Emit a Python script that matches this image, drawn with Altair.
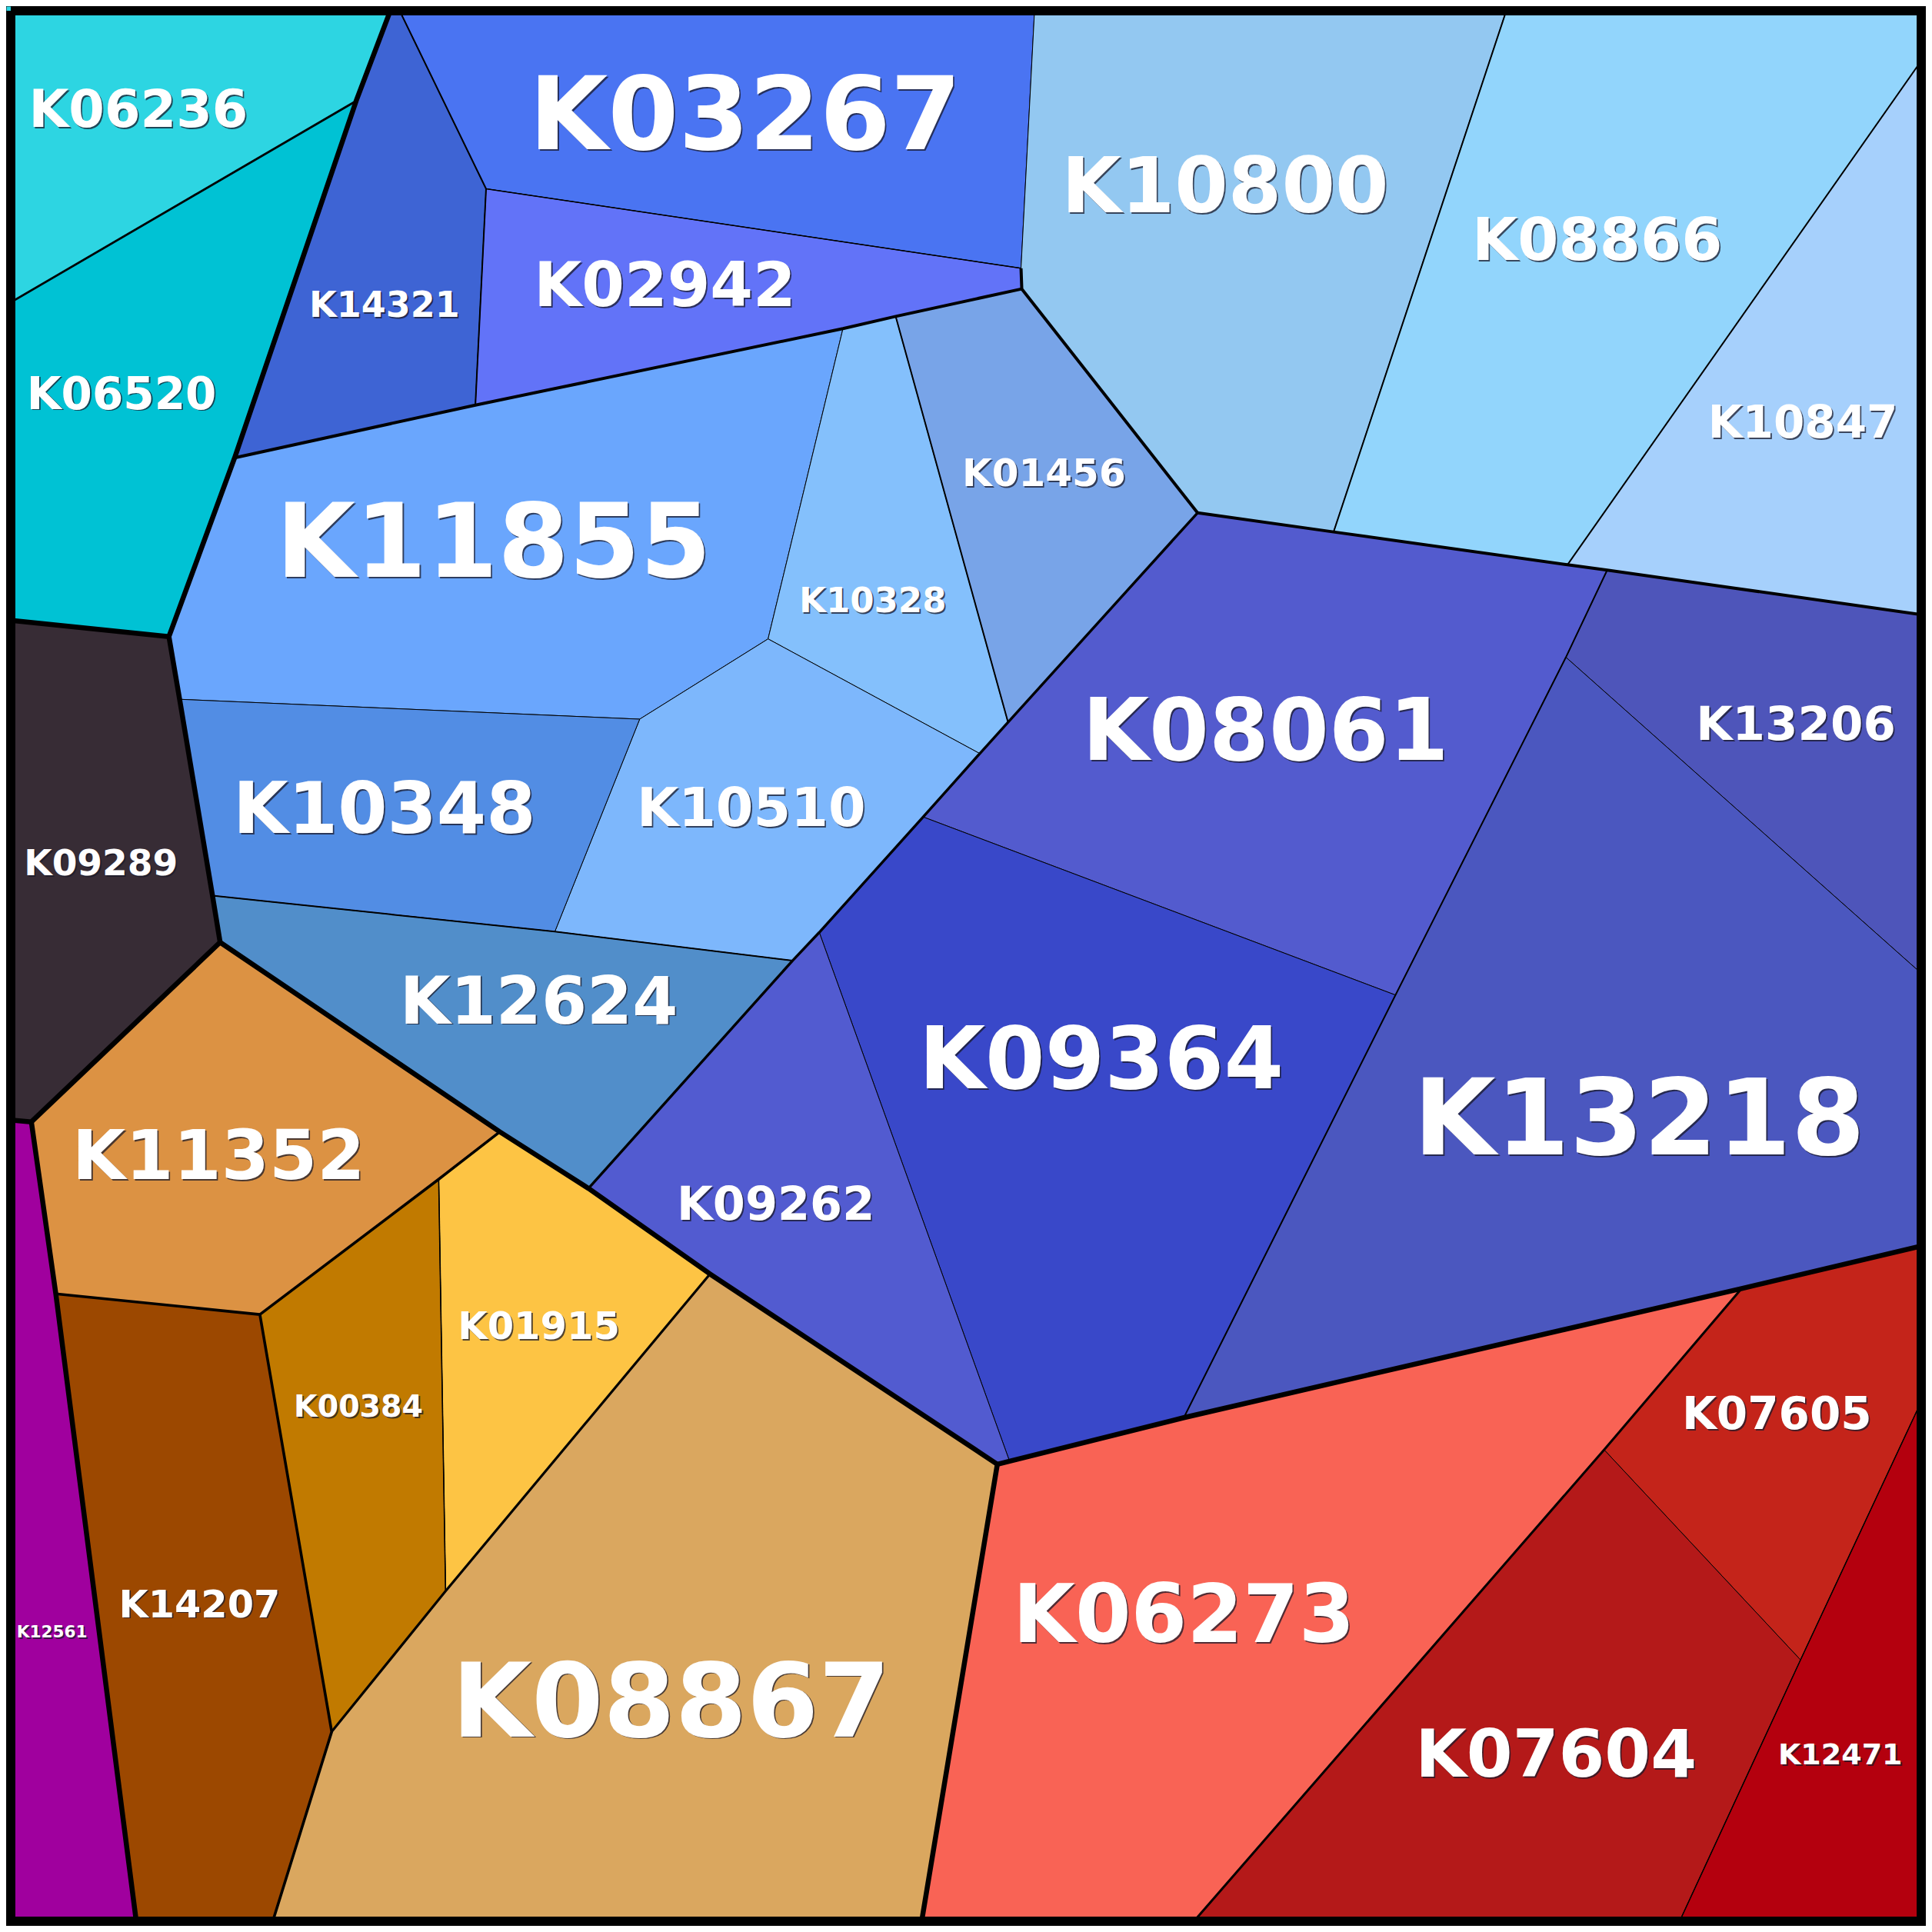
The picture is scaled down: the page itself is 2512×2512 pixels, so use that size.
import altair as alt
import pandas as pd

# ---- vertices of the Voronoi treemap (image pixel space, 0..2512) ----
vertex_names = ["TL", "TR", "BL", "BR", "T1", "T2", "T3", "T4",
                "R1", "R2", "R3", "R4", "R5", "B1", "B2", "B3", "B4", "B5",
                "L1", "L2", "L3", "a", "b", "c", "d", "e", "f", "g", "h", "i",
                "j", "k", "l", "m", "n", "o", "p", "q", "r", "s", "t", "u", "v",
                "w", "x", "y", "z", "aa", "ab", "ac", "ad", "ae", "af", "ag", "ah",
                "ai", "aj", "ak", "al", "am", "ba", "g1"]
vertex_x = [0, 2512, 0, 2512, 505, 512, 1346, 1965,
            2512, 2512, 2512, 2512, 2512, 171, 347, 1197, 1549, 2187,
            0, 0, 0, 628, 1328, 1329, 1559, 1311, 997, 1737, 2043, 2095,
            2041, 1818, 1541, 1200, 1274, 829, 1029, 1064, 1313, 762, 280, 270, 718,
            227, 33, 566, 332, 575, 65, 426, 921, 1297, 2271, 2091, 2348,
            299, 614, 1095, 213, 1164, 646, 458]
vertex_y = [0, 0, 2512, 2512, 0, 0, 0, 0,
            63, 797, 1271, 1621, 1813, 2512, 2512, 2512, 2512, 2512,
            391, 803, 1457, 239, 343, 370, 663, 937, 828, 688, 731, 738,
            852, 1294, 1847, 1061, 978, 933, 1249, 1212, 1904, 1547, 1225, 1164, 1211,
            907, 1460, 1535, 1712, 2074, 1685, 2258, 1659, 1908, 1678, 1889, 2164,
            591, 522, 422, 825, 406, 1473, 124]

# ---- cells ----
cell_names = ["K06236", "K06520", "K14321", "K03267", "K02942", "K11855", "K10328",
              "K01456", "K10800", "K08866", "K10847", "K13206", "K08061", "K13218",
              "K09364", "K09262", "K10510", "K10348", "K12624", "K09289", "K12561",
              "K11352", "K01915", "K00384", "K14207", "K08867", "K06273", "K07605",
              "K07604", "K12471"]
cell_colors = ["#2DD5E2", "#00C2D4", "#3E64D4", "#4A74F2", "#6273F8", "#6AA6FD", "#84C0FC",
               "#78A4E8", "#93C8F1", "#92D5FC", "#A6D0FC", "#4E55BA", "#535BCE", "#4B57BF",
               "#3948C9", "#525BD0", "#7DB7FC", "#528DE4", "#518ECA", "#372C35", "#A0009E",
               "#DC9243", "#FDC444", "#C17A00", "#9C4800", "#DAA75F", "#F96355", "#C4241A",
               "#B41919", "#B4000E"]
cell_vertices = [
    ["TL", "T1", "g1", "L1"],
    ["L1", "g1", "ai", "al", "L2"],
    ["T1", "T2", "a", "aj", "ai", "g1"],
    ["T2", "T3", "b", "a"],
    ["a", "b", "c", "am", "ak", "aj"],
    ["ai", "aj", "ak", "f", "o", "w", "al"],
    ["ak", "am", "e", "n", "f"],
    ["am", "c", "d", "e"],
    ["T3", "T4", "g", "d", "c", "b"],
    ["T4", "TR", "R1", "h", "g"],
    ["R1", "R2", "i", "h"],
    ["i", "R2", "R3", "j"],
    ["d", "g", "h", "i", "j", "k", "m", "n", "e"],
    ["j", "R3", "R4", "af", "l", "k"],
    ["m", "k", "l", "r", "q"],
    ["q", "r", "ae", "ad", "s", "p"],
    ["o", "f", "n", "m", "q", "p", "v"],
    ["w", "o", "v", "u"],
    ["u", "v", "p", "s", "ba", "t"],
    ["L2", "al", "w", "u", "t", "x", "L3"],
    ["L3", "x", "ab", "B1", "BL"],
    ["x", "t", "ba", "y", "z", "ab"],
    ["ba", "s", "ad", "aa", "y"],
    ["y", "aa", "ac", "z"],
    ["ab", "z", "ac", "B2", "B1"],
    ["ac", "aa", "ad", "ae", "B3", "B2"],
    ["ae", "r", "l", "af", "ag", "B4", "B3"],
    ["af", "R4", "R5", "ah", "ag"],
    ["ag", "ah", "B5", "B4"],
    ["R5", "BR", "B5", "ah"],
]

# ---- hierarchy boundaries (polyline through vertices, level weight) ----
boundary_paths = [
    ["a", "b"], ["y", "aa"], ["R5", "ah", "B5"],
    ["T2", "a", "aj"], ["am", "e"], ["T4", "g"], ["R1", "h"],
    ["i", "j", "k", "l"], ["u", "v", "p"],
    ["L1", "g1"], ["af", "ag", "B4"],
    ["ab", "z", "ac", "B2"], ["ba", "y", "z"], ["ac", "aa", "ad"],
    ["ai", "aj", "ak", "am", "c"], ["b", "c", "d"], ["d", "g", "h", "i", "R2"],
    ["d", "e", "n", "m", "q", "p", "s"],
    ["T1", "g1", "ai", "al"], ["L2", "al"], ["al", "w", "u", "t", "x", "L3"],
    ["x", "ab", "B1"], ["t", "ba", "s", "ad", "ae", "B3"], ["ae", "r", "l", "af", "R4"],
]
boundary_width = [1.5, 1.6, 1.5,
                  2.0, 2.0, 2.0, 2.0,
                  2.0, 2.0,
                  2.8, 3.0,
                  3.6, 3.6, 3.2,
                  4.0, 4.0, 4.0,
                  3.4,
                  6.5, 6.5, 6.5,
                  6.5, 6.5, 6.5]

# ---- labels ----
label_x = [173, 151, 495, 967, 862, 638, 1134, 1358, 1595, 2082, 2351, 2342, 1648, 2137,
           1433, 1007, 975, 495, 697, 124, 60, 278, 697, 461, 253, 870, 1541, 2317,
           2028, 2400]
label_y = [158, 527, 407, 187, 393, 747, 793, 628, 270, 332, 565, 960, 986, 1503,
           1416, 1588, 1073, 1082, 1331, 1137, 2135, 1535, 1744, 1846, 2108, 2264, 2141,
           1862, 2317, 2301]
label_size = [67, 58, 46, 132, 80, 133, 45, 50, 100, 76.5, 58, 61, 112, 138,
              111.5, 60.5, 70, 92.5, 85, 47, 21.6, 89.5, 49.5, 39.5, 49.3, 134, 104.5,
              58, 86, 38]

# ---- build GeoJSON ----
pos = {n: [vx, vy] for n, vx, vy in zip(vertex_names, vertex_x, vertex_y)}

cell_features = []
for name, col, verts in zip(cell_names, cell_colors, cell_vertices):
    ring = [pos[v] for v in verts] + [pos[verts[0]]]
    cell_features.append({"type": "Feature",
                          "properties": {"name": name, "color": col},
                          "geometry": {"type": "Polygon", "coordinates": [ring]}})

line_features = []
for path, w in sorted(zip(boundary_paths, boundary_width), key=lambda t: t[1]):
    line_features.append({"type": "Feature",
                          "properties": {"w": w},
                          "geometry": {"type": "LineString",
                                       "coordinates": [pos[v] for v in path]}})

inset = 6
frame_inner = [[inset, inset], [2512 - inset, inset], [2512 - inset, 2512 - inset],
               [inset, 2512 - inset], [inset, inset]]
border_features = [{"type": "Feature", "properties": {"k": "border"},
                    "geometry": {"type": "LineString", "coordinates": frame_inner}}]

labels = pd.DataFrame({"name": cell_names, "x": label_x, "y": label_y, "size": label_size})

SIZE = 2496
proj = dict(type="identity", scale=SIZE / 2512, translate=[0, 0])

cells = alt.Chart(alt.Data(values=cell_features)).mark_geoshape(
    stroke="black", strokeWidth=1.0, strokeJoin="round"
).encode(fill=alt.Fill("properties.color:N", scale=None)).project(**proj)

bounds = alt.Chart(alt.Data(values=line_features)).mark_geoshape(
    filled=False, stroke="black", strokeJoin="round", strokeCap="butt"
).encode(strokeWidth=alt.StrokeWidth("properties.w:Q", scale=None)).project(**proj)

border = alt.Chart(alt.Data(values=border_features)).mark_geoshape(
    filled=False, stroke="black", strokeWidth=12, strokeJoin="miter"
).project(**proj)

shadow = alt.Chart(labels).mark_text(
    font="DejaVu Sans", fontWeight="bold", align="center", baseline="alphabetic",
    color="#1a1a2a", opacity=0.75, dx=1.8, dy=1.8
).encode(longitude="x:Q", latitude="y:Q", text="name:N",
         size=alt.Size("size:Q", scale=None)).project(**proj)

text = alt.Chart(labels).mark_text(
    font="DejaVu Sans", fontWeight="bold", align="center", baseline="alphabetic",
    color="white"
).encode(longitude="x:Q", latitude="y:Q", text="name:N",
         size=alt.Size("size:Q", scale=None)).project(**proj)

chart = alt.layer(cells, bounds, border, shadow, text).properties(
    width=SIZE, height=SIZE, padding=0, background="white",
    autosize=alt.AutoSizeParams(type="none")
).configure_view(stroke=None)

chart.save("out.html", embed_options={"renderer": "svg", "actions": False})
